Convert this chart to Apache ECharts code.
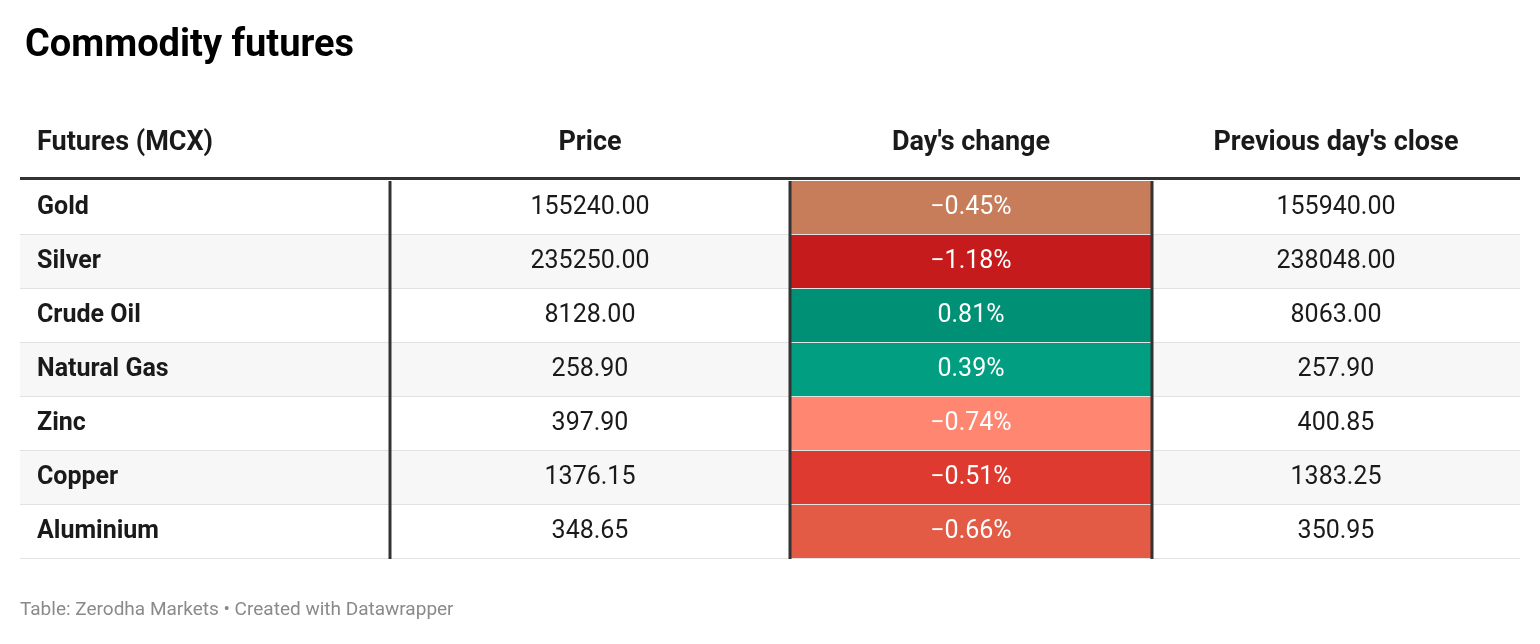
<!DOCTYPE html>
<html><head><meta charset="utf-8">
<script src="https://cdn.jsdelivr.net/npm/echarts@6/dist/echarts.min.js"></script>
<style>html,body{margin:0;background:#fff}#c{width:1540px;height:644px}</style>
</head><body><div id="c"></div>
<script>
const headers = ["Futures (MCX)", "Price", "Day's change", "Previous day's close"];
const commodities = ["Gold", "Silver", "Crude Oil", "Natural Gas", "Zinc", "Copper", "Aluminium"];
const prices = ["155240.00", "235250.00", "8128.00", "258.90", "397.90", "1376.15", "348.65"];
const changes = [-0.45, -1.18, 0.81, 0.39, -0.74, -0.51, -0.66];
const prevClose = ["155940.00", "238048.00", "8063.00", "257.90", "400.85", "1383.25", "350.95"];
const changeColors = ["#c77c5a", "#c51b1d", "#009075", "#029e81", "#ff8670", "#df3a30", "#e35a45"];

const colEdges = [0, 370, 770, 1132, 1500];
const font = "Roboto, sans-serif";
const fmtChange = v => (v < 0 ? "\u2212" : "") + Math.abs(v).toFixed(2) + "%";

const cells = [];
commodities.forEach((c, r) => { for (let k = 0; k < 4; k++) cells.push([0, c, k, r]); });

const chart = echarts.init(document.getElementById('c'));
chart.setOption({
  animation: false,
  grid: { left: 20, right: 20, top: 181, bottom: 85 },
  xAxis: { type: 'value', min: 0, max: 1500, show: false },
  yAxis: { type: 'category', data: commodities, inverse: true, show: false },
  title: {
    text: 'Commodity futures', left: 20, top: 22,
    textStyle: { fontFamily: font, fontSize: 38, fontWeight: 'bold', color: '#000' }
  },
  graphic: [
    ...headers.map((h, k) => ({
      type: 'text', left: k === 0 ? 37 : undefined,
      x: k === 0 ? 37 : 20 + (colEdges[k] + colEdges[k + 1]) / 2, y: 143,
      style: { text: h, font: 'bold 27px ' + font, fill: '#1a1a1a',
        textAlign: k === 0 ? 'left' : 'center', textVerticalAlign: 'middle' }
    })).map(g => { delete g.left; return g; }),
    { type: 'rect', shape: { x: 20, y: 177, width: 1500, height: 3 }, style: { fill: '#333' } },
    { type: 'text', x: 20, y: 610,
      style: { text: 'Table: Zerodha Markets \u2022 Created with Datawrapper', font: '19px ' + font,
        fill: '#8a8a8a', textVerticalAlign: 'middle' } }
  ],
  series: [{
    type: 'custom',
    data: cells,
    renderItem: (params, api) => {
      const row = api.value(3), col = api.value(2);
      const h = api.size([0, 1])[1];
      const p0 = api.coord([colEdges[col], row]);
      const p1 = api.coord([colEdges[col + 1], row]);
      const top = p0[1] - h / 2;
      let bg = row % 2 === 1 ? '#f7f7f7' : '#ffffff';
      let text, fill = '#1a1a1a', weight = 'normal', align = 'center', tx = (p0[0] + p1[0]) / 2;
      if (col === 0) { text = commodities[row]; weight = 'bold'; align = 'left'; tx = p0[0] + 17; }
      else if (col === 1) text = prices[row];
      else if (col === 2) { text = fmtChange(changes[row]); bg = changeColors[row]; fill = '#fff'; }
      else text = prevClose[row];
      const children = [
        { type: 'rect', shape: { x: p0[0], y: top, width: p1[0] - p0[0], height: h }, style: { fill: bg } },
        { type: 'rect', shape: { x: p0[0], y: top + h - 1, width: p1[0] - p0[0], height: 1 }, style: { fill: '#e2e2e2' } },
        { type: 'text', x: tx, y: p0[1], style: { text, font: weight + ' 25px ' + font, fill, textAlign: align, textVerticalAlign: 'middle' } }
      ];
      if (col > 0) children.push({ type: 'rect', shape: { x: p0[0] - 1.5, y: top, width: 3, height: h }, style: { fill: '#333' } });
      return { type: 'group', children };
    }
  }]
});
</script></body></html>
